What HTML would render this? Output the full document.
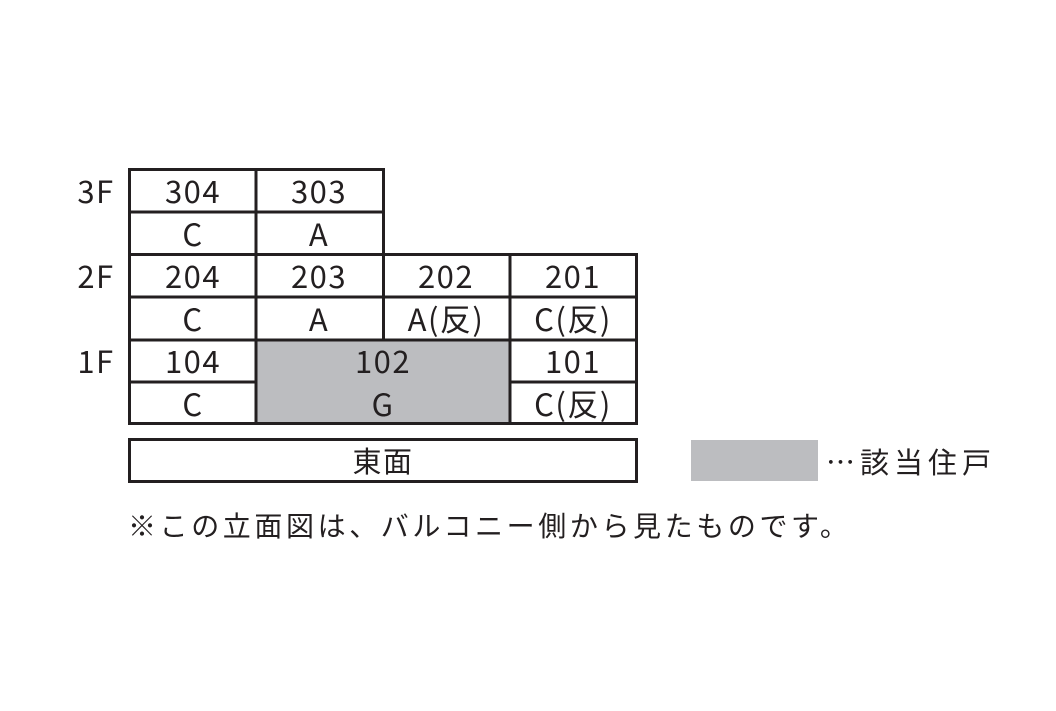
<!DOCTYPE html>
<html><head><meta charset="utf-8"><style>
html,body{margin:0;padding:0;background:#fff;}
text{font-family:"Noto Sans CJK JP","Liberation Sans",sans-serif;fill:#231f20;}
</style></head><body>
<svg width="1056" height="706" viewBox="0 0 1056 706" xmlns="http://www.w3.org/2000/svg">
<rect x="256" y="340" width="254" height="84" fill="#bcbdc0"/>
<rect x="691" y="440" width="127" height="41" fill="#bcbdc0"/>
<g stroke="#231f20" stroke-width="3" fill="none">
<line x1="129.5" y1="168" x2="129.5" y2="425"/>
<line x1="128" y1="169.5" x2="385" y2="169.5"/>
<line x1="383.5" y1="168" x2="383.5" y2="340"/>
<line x1="383" y1="254.5" x2="638" y2="254.5"/>
<line x1="636.5" y1="253" x2="636.5" y2="425"/>
<line x1="128" y1="423.5" x2="638" y2="423.5"/>
<line x1="129" y1="212" x2="383" y2="212"/>
<line x1="129" y1="254.5" x2="383" y2="254.5"/>
<line x1="129" y1="297" x2="637" y2="297"/>
<line x1="129" y1="340" x2="637" y2="340"/>
<line x1="129" y1="382" x2="256" y2="382"/>
<line x1="510" y1="382" x2="637" y2="382"/>
<line x1="256" y1="169" x2="256" y2="424"/>
<line x1="510" y1="254" x2="510" y2="424"/>
<rect x="129.5" y="439.5" width="507" height="42"/>
</g>
<g font-size="31" text-anchor="middle" letter-spacing="1.5">
<text x="96" y="203">3F</text>
<text x="96" y="288">2F</text>
<text x="96" y="373">1F</text>
<text x="193" y="203">304</text>
<text x="319" y="203">303</text>
<text x="193" y="246">C</text>
<text x="319" y="246">A</text>
<text x="193" y="288">204</text>
<text x="319" y="288">203</text>
<text x="446" y="288">202</text>
<text x="573" y="288">201</text>
<text x="193" y="331">C</text>
<text x="319" y="331">A</text>
<text x="446" y="331">A(反)</text>
<text x="573" y="331">C(反)</text>
<text x="193" y="373">104</text>
<text x="383" y="373">102</text>
<text x="573" y="373">101</text>
<text x="193" y="416">C</text>
<text x="383" y="416">G</text>
<text x="573" y="416">C(反)</text>
<text x="383" y="472" font-size="29">東面</text>
</g>
<text x="826" y="473" font-size="29" letter-spacing="5">…該当住戸</text>
<text x="128" y="536" font-size="28" letter-spacing="3.6">※この立面図は、バルコニー側から見たものです。</text>
</svg>
</body></html>
